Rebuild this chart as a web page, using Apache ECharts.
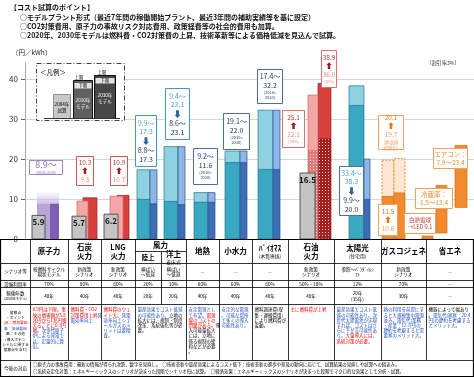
<!DOCTYPE html>
<html>
<head>
<meta charset="utf-8">
<script src="https://cdn.jsdelivr.net/npm/echarts@6/dist/echarts.min.js"></script>
<style>html,body{margin:0;padding:0;background:#fff}#main{width:474px;height:378px}</style>
</head>
<body>
<div id="main"></div>
<script>
// 電源別発電コスト（円/kWh）
var columns = ['原子力', '石炭火力', 'LNG火力', '風力(陸上)', '風力(洋上)', '地熱', '小水力', 'バイオマス', '石油火力', '太陽光', 'ガスコジェネ', '省エネ'];
var cost2004 = [5.9, 5.7, 6.2, null, null, null, null, null, 16.5, null, null, null];
var low2010 = [8.9, 9.5, 10.7, 9.9, 9.4, 9.2, 19.1, 17.4, 22.1, 33.4, 10.6, null];
var high2010 = [null, null, null, 17.3, 23.1, 11.6, 22.0, 32.2, 36.0, 38.3, 19.7, null];
var low2030 = [8.9, 10.3, 10.9, 8.8, 8.6, 9.2, 19.1, 17.4, 25.1, 9.9, 11.5, null];
var high2030 = [null, null, null, 17.3, 23.1, 11.6, 22.0, 32.2, 38.9, 20.0, 20.1, null];
var saveItems = ['白熱電球→LED', '冷蔵庫', 'エアコン'];
var saveLow = [0, 1.5, 7.9];
var saveHigh = [0.1, 13.4, 23.4];
var yTicks = [0, 10, 20, 30, 40];

// 表の中身
var headCells = ['原子力', '石炭\n火力', 'LNG\n火力', '陸上', '{h|洋上}\n{s|着床式}', '地熱', '小水力',
  '{h|ﾊﾞｲｵﾏｽ}\n{s|(木質専焼)}', '石油\n火力', '{h|太陽光}\n{s|(住宅用)}', 'ガスコジェネ', '省エネ'];
var scenario = ['核燃料サイクル\n現状モデル', '新政策\nシナリオ', '新政策\nシナリオ', '横ばい\n～低減', '横ばい\n～低減', '―', '―', '―',
  '新政策\nシナリオ', '参照～ﾊﾟﾗﾀﾞｲﾑｼ\nﾌﾄ', '新政策\nシナリオ', '―'];
var capacity = ['70%', '80%', '80%', '20%', '30%', '80%', '60%', '80%', '50%・10%', '12%', '70%', '―'];
var lifetime = ['40年', '40年', '40年', '20年', '20年', '40年', '40年', '40年', '40年', '20年\n(35年)', '30年', '―'];
var remarks = [
  [['r', '8.9円は下限。事故の損害額が5.8兆円から1兆円増えるごとに0.1円増。'], ['b', '次世代原子炉による発電では、定量的に算出。']],
  [['r', '燃料費・CO2対策費用上昇'], ['b', '発電効率向上']],
  [['r', '燃料費のウェイト大。'], ['b', '発電効率向上\nシェールガスのメリットは要精査。']],
  [['b', '量産効果でコスト低減の可能性あり。'], ['k', '立地の拡大には、規制・制度改革、系統強化等が必要。']],
  [['b', '安定電源として有望。'], ['r', '電源線のコストの問題がある。'], ['k', '導入可能量拡大には、立地に係る規制の緩和などが必要。']],
  [['b', '安定的な電源。可能な場所で多くの導入可能性あり。']],
  [['k', '燃料調達費(収集・運搬費用)により燃料費が変動。']],
  [['r', '主に燃料費が上昇']],
  [['b', '量産効果でコスト低減の可能性あり。次世代太陽電池が実現すれば、コストはさらに下がる可能性あり。'], ['r', '大量導入には、系統対策が必要。']],
  [['b', '熱の利用を前提にすると大規模集中電源並み。電気代(業務・産業：12.7円)の節約を考慮すると需要家のメリット大。']],
  [['k', '機器によって幅あり。'], ['b', '電気代(家庭：20.4円)の節約を考慮するとメリット大。']]
];
var futureLines = [
  '○原子力の事故費用：最新の情報が得られ次第、数字を見直し。　○技術革新や量産効果によるコスト低下：技術革新の進歩や普及の動向に応じて、試算結果の見直しや試算への組込み。',
  '○系統安定化対策：エネルギーミックスのシナリオが決まった段階でシナリオ毎に試算。　○経済効果：エネルギーミックスのシナリオが決まった段階でマクロ的な効果として分析・試算。'
];
var headLines = [
  '【コスト試算のポイント】',
  '○モデルプラント形式（最近7年間の稼働開始プラント、最近3年間の補助実績等を基に設定）',
  '○CO2対策費用、原子力の事故リスク対応費用、政策経費等の社会的費用も加算。',
  '○2020年、2030年モデルは燃料費・CO2対策費の上昇、技術革新等による価格低減を見込んで試算。'
];

// レイアウト（x軸はページのピクセルと同じ目盛り）
var colEdges = [30, 68, 101, 135, 161, 186, 219, 252, 288, 334, 381, 426, 474];
var slots = [
  {g: [32, 45], a: [37, 50], b: [50, 59]},
  {g: [72, 86], a: [77, 88], b: [83, 97]},
  {g: [104, 118], a: [110, 123], b: [117, 129]},
  {a: [137, 150], b: [150, 157]},
  {a: [164, 178], b: [178, 185]},
  {a: [194, 208], b: [208, 215]},
  {a: [225, 240], b: [240, 247]},
  {a: [258, 273], b: [273, 280]},
  {g: [300, 315], a: [308, 318], b: [318, 331]},
  {a: [349, 364], b: [364, 370]},
  {a: [382, 394], b: [394, 405]},
  {s: [[422, 433], [436, 447], [455, 467]]}
];
var kinds = ['nuc', 'fossil', 'fossil', 're', 're', 're', 're', 're', 'oil', 're', 'cogen', 'save'];

var FONT = '"Noto Sans CJK JP", "Noto Sans", sans-serif';
var C = {
  gray: '#c4c4c4', grayLine: '#4a4a4a',
  purA: '#b8a5d8', purB: '#7c5fb3',
  pink: '#f4a7a5', pinkLine: '#cf6b68', red: '#d8403c', redLine: '#982321',
  teal: '#39a8c0', tealHi: '#8ed1e0', tealLine: '#22798d',
  blue: '#3e6eb5', blueHi: '#8db5e5', blueLine: '#2b5090',
  orange: '#f28b2e', orangeLine: '#d66d12', orangeHi: '#fde7d3'
};

function dots(bg) {
  var c = document.createElement('canvas');
  c.width = 3; c.height = 3;
  var x = c.getContext('2d');
  x.fillStyle = bg; x.fillRect(0, 0, 3, 3);
  x.fillStyle = 'rgba(255,255,255,0.75)'; x.fillRect(1, 1, 1, 1);
  return {image: c, repeat: 'repeat'};
}
var dotsRed = dots('#a3201f');
var dotsPink = dots('#de7b78');

function renderItem(params, api) {
  var i = api.value(0), s = slots[i], k = kinds[i], ch = [];
  function bar(xr, v0, v1, fill, stroke, minH, extra) {
    var p0 = api.coord([xr[0], v0]), p1 = api.coord([xr[1], v1]);
    var h = Math.max(p0[1] - p1[1], minH || 0);
    ch.push({type: 'rect', shape: {x: p0[0], y: p0[1] - h, width: p1[0] - p0[0], height: h},
      style: Object.assign({fill: fill, stroke: stroke, lineWidth: 0.7}, extra)});
    return p0[1] - h;
  }
  function range(xr, lo, hi, fLo, fHi, stroke) {
    bar(xr, 0, lo, fLo, stroke);
    if (hi != null && hi > lo) bar(xr, lo, hi, fHi, stroke);
  }
  if (k === 'save') {
    s.s.forEach(function (xr, j) { bar(xr, saveLow[j], saveHigh[j], C.orange, C.orangeLine, 3); });
  } else if (k === 'nuc') {
    [[s.a, low2010[i], C.purA], [s.b, low2030[i], C.purB]].forEach(function (d) {
      var top = bar(d[0], 0, d[1], d[2], null);
      var p = api.coord([d[0][0], 0]), q = api.coord([d[0][1], 0]);
      ch.push({type: 'rect', shape: {x: p[0], y: top - 12, width: q[0] - p[0], height: 12},
        style: {fill: {type: 'linear', x: 0, y: 0, x2: 0, y2: 1, colorStops: [
          {offset: 0, color: 'rgba(206,192,234,0)'}, {offset: 1, color: 'rgba(206,192,234,0.95)'}]}}});
    });
  } else if (k === 'fossil') {
    bar(s.b, 0, low2030[i], C.red, C.redLine);
    bar(s.a, 0, low2010[i], C.pink, C.pinkLine);
  } else if (k === 'oil') {
    bar(s.b, 0, low2030[i], dotsRed, C.redLine);
    bar(s.b, low2030[i], high2030[i], C.red, C.redLine);
    bar(s.a, 0, low2010[i], dotsPink, C.pinkLine);
    bar(s.a, low2010[i], high2010[i], C.pink, C.pinkLine);
  } else if (k === 're') {
    range(s.a, low2010[i], high2010[i], C.teal, C.tealHi, C.tealLine);
    range(s.b, low2030[i], high2030[i], C.blue, C.blueHi, C.blueLine);
  } else if (k === 'cogen') {
    [[s.a, low2010[i], high2010[i]], [s.b, low2030[i], high2030[i]]].forEach(function (d) {
      bar(d[0], d[1], d[2], C.orangeHi, C.orange, 0, {lineDash: [2, 1.5], lineWidth: 1});
      bar(d[0], 0, d[1], C.orange, C.orangeLine);
    });
  }
  if (s.g && cost2004[i] != null) {
    var top = bar(s.g, 0, cost2004[i], C.gray, C.grayLine, 0, {lineWidth: 0.9});
    var c = api.coord([(s.g[0] + s.g[1]) / 2, 0]);
    ch.push({type: 'text', style: {x: c[0], y: top + 3, text: cost2004[i].toFixed(1), align: 'center',
      verticalAlign: 'top', fontSize: 8, fontWeight: 'bold', fill: '#111', fontFamily: FONT}});
  }
  return {type: 'group', children: ch};
}

// graphic の部品
var G = [];
function txt(x, y, text, o) {
  G.push({type: 'text', z: 20, style: Object.assign({x: x, y: y, text: text, fontFamily: FONT, fontSize: 7,
    fill: '#000', align: 'center', verticalAlign: 'middle'}, o || {})});
}
function ln(x1, y1, x2, y2, w, c, dash) {
  G.push({type: 'line', z: 20, shape: {x1: x1, y1: y1, x2: x2, y2: y2},
    style: {stroke: c || '#000', lineWidth: w || 0.8, lineDash: dash || null}});
}
function box(x, y, w, h, style) {
  G.push({type: 'rect', z: 15, shape: {x: x, y: y, width: w, height: h}, style: style});
}
function rs(color, size, weight) {
  return {fill: color, fontSize: size, fontWeight: weight || 'normal', fontFamily: FONT, lineHeight: size + 1.6};
}
function note(x, y, w, h, border, text, rich) {
  box(x + 0.5, y + 0.5, w, h, {fill: '#fff', stroke: border, lineWidth: 1});
  txt(x + 0.5 + w / 2, y + 0.5 + h / 2, text, {rich: rich});
}

// 見出し
headLines.forEach(function (t, j) {
  txt(j === 0 ? 10 : 20, 7.7 + j * 9.2, t, {align: 'left', fontSize: 7, fill: '#111', fontWeight: 'bold'});
});
txt(12, 53, '〔円／kWh〕', {align: 'left', fontSize: 6.5, fill: '#222'});
txt(443, 63, '（割引率3%）', {fontSize: 5.2, fill: '#333', backgroundColor: '#fff', padding: [0, 2]});

// 凡例
box(36.5, 63.5, 88, 57, {fill: '#fff', stroke: '#444', lineWidth: 1, lineDash: [5, 2, 1, 2]});
txt(40, 73, '＜凡例＞', {align: 'left', fontSize: 6.5});
ln(44, 118.5, 120, 118.5, 1, '#333');
box(53.5, 94.5, 17, 24, {fill: '#c8c8c8', stroke: '#777', lineWidth: 0.8});
txt(62, 107, '2004年\n試算', {fontSize: 4.6, lineHeight: 6});
box(73.5, 80.5, 19, 38, {fill: '#606060', stroke: '#111', lineWidth: 1});
box(74.5, 83, 17, 5.5, {fill: '#e2e2e2'});
txt(83, 85.8, '下限', {fontSize: 4.2});
txt(79, 77, '上限', {fontSize: 4.2});
txt(83, 103, '2010年\nモデル', {fontSize: 4.6, lineHeight: 6, fill: '#fff'});
box(94.5, 75.5, 21, 43, {fill: '#474747', stroke: '#111', lineWidth: 1});
box(95.5, 78, 19, 5.5, {fill: '#e2e2e2'});
txt(105, 80.8, '下限', {fontSize: 4.2});
txt(102, 72, '上限', {fontSize: 4.2});
txt(105, 98, '2030年\nモデル', {fontSize: 4.6, lineHeight: 6, fill: '#fff'});

// 吹き出し
var pur = '#8a6fc4', dRed = '#c0392b', lRed = '#ee8e8c', aRed = '#a01e1e';
var lBlue = '#47a8d8', dBlue = '#1b3a66', aBlue = '#2f5fa5', dOr = '#e8771a', lOr = '#f3a566';
var redRich = {d: rs(dRed, 6.5), a: rs(aRed, 7.5), l: rs(lRed, 6.5), s: rs(lRed, 4)};
var blueRich = {l: rs(lBlue, 7), a: rs(aBlue, 8.5), d: rs(dBlue, 7), s: rs(dBlue, 4)};
var orRich = {d: rs(dOr, 6.5), a: rs(dOr, 7.5), l: rs(lOr, 6.5), s: rs(lOr, 4.5)};
note(29, 160, 33, 14, '#9c88c8', '{p|8.9～}\n{s|(2010=2030)}', {p: rs(pur, 9), s: rs(pur, 3.6)});
note(76, 156, 17, 29, '#d9534f', '{d|10.3}\n{a|⬆}\n{l|9.5}', redRich);
note(110, 156, 17, 29, '#d9534f', '{d|10.9}\n{a|⬆}\n{l|10.7}', redRich);
note(135, 115, 21, 51, '#4a90c8', '{l|9.9～}\n{l|17.3}\n{a|⬇}\n{d|8.8～}\n{d|17.3}', blueRich);
note(165, 88, 24, 51, '#4a90c8', '{l|9.4～}\n{l|23.1}\n{a|⬇}\n{d|8.6～}\n{d|23.1}', blueRich);
note(193, 148, 24, 36, '#4a6fa5', '{d|9.2～}\n{d|11.6}\n{s|(2010=}\n{s|2030)}', blueRich);
note(223, 113, 26, 36, '#4a6fa5', '{d|19.1～}\n{d|22.0}\n{s|(2010=}\n{s|2030)}', blueRich);
note(257, 69, 25, 34, '#4a6fa5', '{d|17.4～}\n{d|32.2}\n{s|(2010=}\n{s|2030)}', blueRich);
note(282, 110, 22, 37, '#e07070', '{d|25.1}\n{a|⬆}\n{l|22.1}\n{s|(50%)}', redRich);
note(321, 50, 15, 37, '#e07070', '{d|38.9}\n{a|⬆}\n{l|36.0}\n{s|(10%)}', redRich);
note(339, 166, 24, 49, '#4a6fa5', '{l|33.4～}\n{l|38.3}\n{a|⬇}\n{d|9.9～}\n{d|20.0}', blueRich);
note(378, 115, 25, 34, '#f0a060', '{d|20.1}\n{a|⬆}\n{l|19.7}\n{s|(熱価値}\n{s|控除前)}', orRich);
note(378, 204, 19, 31, '#f0a060', '{d|11.5}\n{a|⬆}\n{l|10.6}', orRich);
note(404, 213, 31, 20, '#f0a060', '{r|白熱電球}\n{r|→LED 0.1}', {r: rs('#c0392b', 5.5)});
note(415, 188, 37, 20, '#f0a060', '{o|冷蔵庫：}\n{o|1.5～13.4}', {o: rs('#ef8a2c', 6.5)});
note(433, 148, 34, 20, '#f0a060', '{o|エアコン：}\n{o|7.9～23.4}', {o: rs('#ef8a2c', 6.5)});

// 表
var T = [239, 263, 280, 287, 304, 360, 377];
box(0, T[1], 474, T[6] - T[1], {fill: '#fff'});
[T[0], T[1], T[2], T[3], T[4], T[5]].forEach(function (y) { ln(0, y + 0.5, 474, y + 0.5, 0.8); });
ln(0, T[0] + 0.5, 474, T[0] + 0.5, 1.2);
ln(0, T[6] - 0.5, 474, T[6] - 0.5, 1.2);
ln(colEdges[3], 251.5, colEdges[5], 251.5, 0.8);
ln(0.5, T[0], 0.5, T[6], 1.2);
ln(473.5, T[0], 473.5, T[6], 1.2);
colEdges.forEach(function (x, j) {
  if (j === colEdges.length - 1) return;
  if (x === 161) { ln(x + 0.5, 251.5, x + 0.5, T[4], 0.8); return; }
  ln(x + 0.5, T[0], x + 0.5, j === 0 ? T[6] : T[5], 0.8);
});
var headRich = {h: {fontSize: 7.5, fontWeight: 'bold', fontFamily: FONT, fill: '#000', lineHeight: 9},
  s: {fontSize: 4.8, fontFamily: FONT, fill: '#000', lineHeight: 6}};
txt(160.5, 245.5, '風力', {fontSize: 7.5, fontWeight: 'bold'});
headCells.forEach(function (t, j) {
  var cx = (colEdges[j] + colEdges[j + 1]) / 2;
  var cy = (j === 3 || j === 4) ? 257.5 : 251.5;
  if (t.indexOf('{') === 0) {
    txt(cx, cy, t, {rich: headRich});
  } else {
    txt(cx, cy, t, {fontSize: (j === 3 || j === 4) ? 6.5 : 7.5, fontWeight: 'bold', lineHeight: 9});
  }
});
txt(15.5, 271.5, 'シナリオ等', {fontSize: 4.5});
txt(15.5, 284, '設備利用率', {fontSize: 4.5});
txt(15.5, 295.5, '{a|稼働年数}\n{b|(2030年モデル)}', {rich: {a: {fontSize: 4.6, fontFamily: FONT, lineHeight: 5.5},
  b: {fontSize: 3.3, fontFamily: FONT, lineHeight: 4.5}}});
txt(15.5, 368.5, '今後の対応', {fontSize: 4.6});
for (var j = 0; j < 12; j++) {
  var cx = (colEdges[j] + colEdges[j + 1]) / 2;
  txt(cx, 271.8, scenario[j], {fontSize: 4.6, lineHeight: 5.6});
  txt(cx, 284, capacity[j], {fontSize: 4.6});
  txt(cx, 296, lifetime[j], {fontSize: 4.6, lineHeight: 5.6});
}
txt(15.5, 331, '{k|留意点}\n{k|・ポイント}\n{r|(赤：増加要因}\n{b|青：低減要因}\n{k|黒：その他}\n{k|(導入ポテン}\n{k|シャルに関する}\n{k|留意点を含む)}', {
  rich: {k: rs('#000', 3.8), r: rs('#e60000', 3.8), b: rs('#1f4fbf', 3.8)}});
var noteEdges = colEdges.filter(function (x) { return x !== 161; });
var cellRich = {k: {fill: '#000', fontSize: 4.5, lineHeight: 5.2, fontFamily: FONT},
  r: {fill: '#e60000', fontSize: 4.5, lineHeight: 5.2, fontFamily: FONT},
  b: {fill: '#1f4fbf', fontSize: 4.5, lineHeight: 5.2, fontFamily: FONT}};
remarks.forEach(function (segs, j) {
  var x0 = noteEdges[j], x1 = noteEdges[j + 1];
  var t = segs.map(function (s) {
    return s[1].split('\n').map(function (p) { return '{' + s[0] + '|' + p + '}'; }).join('\n');
  }).join('\n');
  txt(x0 + 2.5, T[4] + 3, t, {align: 'left', verticalAlign: 'top', width: x1 - x0 - 4, overflow: 'breakAll',
    rich: cellRich});
});
futureLines.forEach(function (t, j) {
  txt(33, 364.5 + j * 7, t, {align: 'left', fontSize: 4.4, fill: '#000'});
});

var chart = echarts.init(document.getElementById('main'));
chart.setOption({
  animation: false,
  textStyle: {fontFamily: FONT},
  grid: {left: 25, right: 0, top: 63, bottom: 139, show: false},
  xAxis: {type: 'value', min: 25, max: 474, show: false},
  yAxis: {
    type: 'value', min: 0, max: 44, interval: 2,
    axisLine: {show: true, lineStyle: {color: '#aaa'}},
    axisTick: {show: true, length: 4, customValues: yTicks, lineStyle: {color: '#666'}},
    axisLabel: {customValues: yTicks, fontSize: 8, color: '#333', margin: 7,
      formatter: function (v) { return yTicks.indexOf(v) >= 0 ? v : ''; }},
    splitLine: {lineStyle: {color: '#cbcbcb', width: 0.8}}
  },
  series: [{
    type: 'custom',
    renderItem: renderItem,
    data: columns.map(function (c, i) { return [i, 0]; }),
    clip: false,
    silent: true,
    z: 2
  }],
  graphic: G
});
</script>
</body>
</html>
